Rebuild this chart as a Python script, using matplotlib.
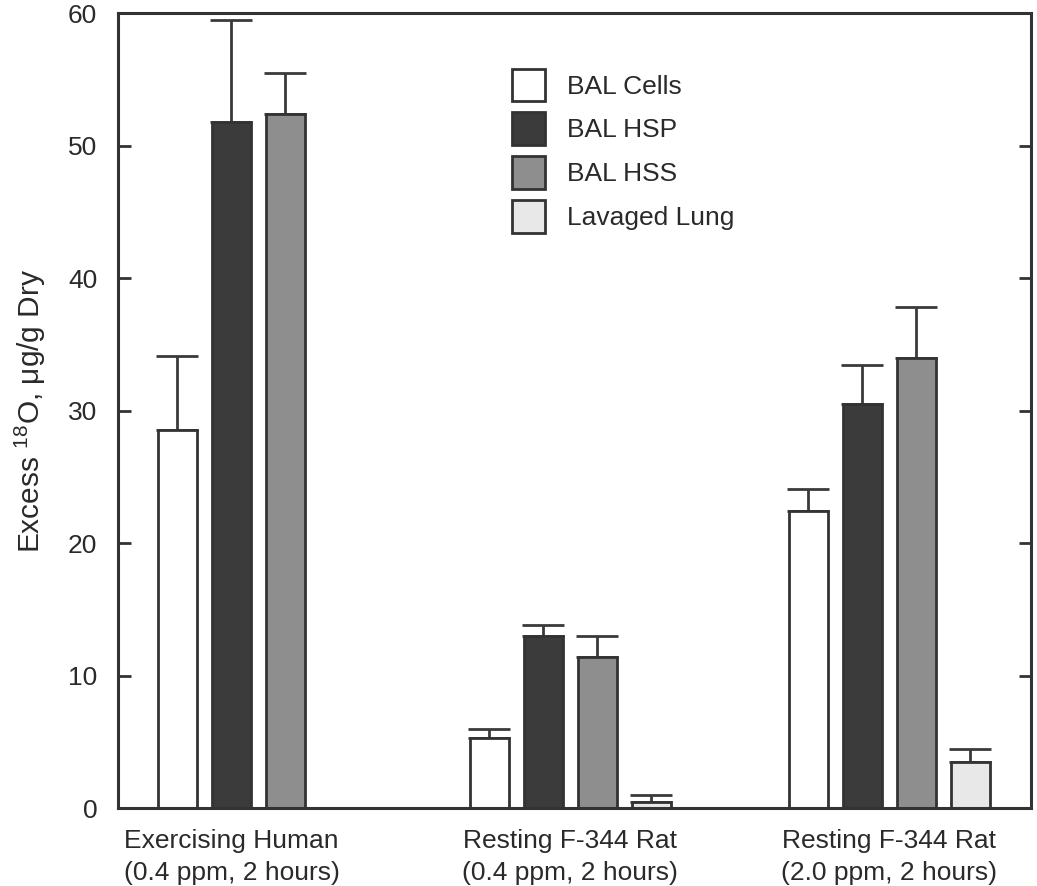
import numpy as np
import matplotlib
matplotlib.use("Agg")
import matplotlib.pyplot as plt

plt.rcParams['font.family'] = ['Liberation Sans', 'DejaVu Sans']
plt.rcParams['mathtext.fontset'] = 'custom'
plt.rcParams['mathtext.rm'] = 'Liberation Sans'

# data (NaN = no bar for that group)
groups = ["Exercising Human\n(0.4 ppm, 2 hours)",
          "Resting F-344 Rat\n(0.4 ppm, 2 hours)",
          "Resting F-344 Rat\n(2.0 ppm, 2 hours)"]
series = ["BAL Cells", "BAL HSP", "BAL HSS", "Lavaged Lung"]
bal_cells = [28.5, 5.3, 22.4]
bal_cells_err = [5.6, 0.7, 1.7]
bal_hsp = [51.8, 13.0, 30.5]
bal_hsp_err = [7.7, 0.8, 2.9]
bal_hss = [52.4, 11.4, 34.0]
bal_hss_err = [3.1, 1.6, 3.8]
lavaged_lung = [np.nan, 0.45, 3.5]
lavaged_lung_err = [np.nan, 0.55, 0.95]

values = [bal_cells, bal_hsp, bal_hss, lavaged_lung]
errors = [bal_cells_err, bal_hsp_err, bal_hss_err, lavaged_lung_err]
colors = ['white', '#3b3b3b', '#8e8e8e', '#e8e8e8']
edge = '#333333'
txt = '#2a2a2a'

group_start = np.array([1.1, 6.87, 12.78])
width = 0.72

fig = plt.figure(figsize=(10.37, 8.86), dpi=100)
ax = fig.add_axes([0.1138, 0.088, 0.8804, 0.8973])

for i, (vals, errs, col, name) in enumerate(zip(values, errors, colors, series)):
    vals = np.array(vals)
    errs = np.array(errs)
    ok = ~np.isnan(vals)
    x = group_start[ok] + i
    ax.bar(x, vals[ok], width=width, color=col, edgecolor=edge, linewidth=2,
           label=name, zorder=2)
    ax.errorbar(x, vals[ok], yerr=[np.zeros(ok.sum()), errs[ok]], fmt='none',
                ecolor='#3a3a3a', elinewidth=2, capsize=15, capthick=2, zorder=1)

# group label sits under the centre of the bars that exist in the group
tick_pos = []
for g in range(len(groups)):
    present = [i for i in range(len(series)) if not np.isnan(values[i][g])]
    tick_pos.append(group_start[g] + np.mean(present))
ax.set_xticks(tick_pos)
ax.set_xticklabels(groups, fontsize=19, color=txt, linespacing=1.42)
ax.tick_params(axis='x', length=0, pad=15)

ax.set_xlim(0, 16.9)
ax.set_ylim(0, 60)
ax.set_yticks(np.arange(0, 61, 10))
ax.tick_params(axis='y', direction='in', length=9, width=2, color=edge,
               labelsize=19, labelcolor=txt, right=True, pad=15)
for s in ax.spines.values():
    s.set_linewidth(2.2)
    s.set_color(edge)

ax.set_ylabel(r'Excess $^{18}$O, μg/g Dry', fontsize=21.5, color=txt, labelpad=14)

ax.legend(loc='upper left', bbox_to_anchor=(0.405, 0.96), frameon=False,
          fontsize=19, handlelength=1.25, handleheight=1.53, labelspacing=0.42,
          handletextpad=0.85, labelcolor=txt)

fig.savefig("out.png", dpi=100)
